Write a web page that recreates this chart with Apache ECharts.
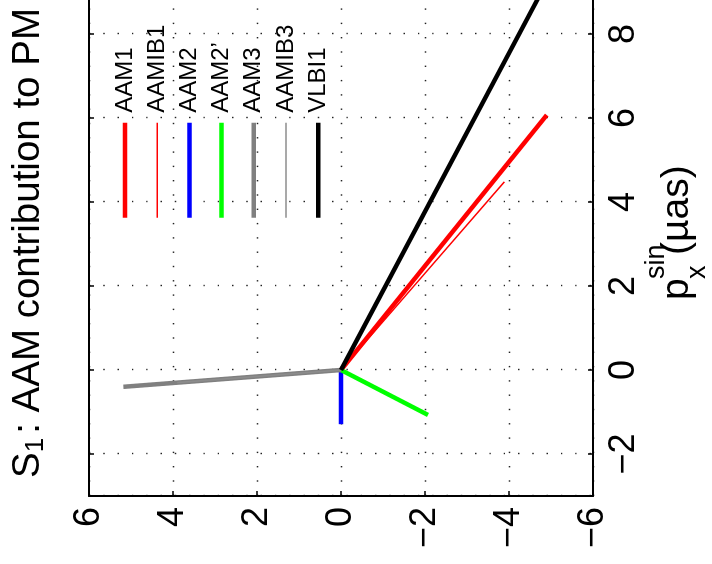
<!DOCTYPE html>
<html>
<head>
<meta charset="utf-8">
<script src="https://cdn.jsdelivr.net/npm/echarts@6/dist/echarts.min.js"></script>
<style>
  html, body { margin: 0; padding: 0; width: 712px; height: 564px; overflow: hidden; background: #fff; }
  /* The figure is drawn upright and turned a quarter turn counter-clockwise, as in the reference */
  #chart { position: absolute; left: 0; top: 0; width: 600px; height: 712px;
           transform-origin: 0 0; transform: translate(0px, 564px) rotate(-90deg); }
</style>
</head>
<body>
<div id="chart"></div>
<script>
// ---- data: each vector from the origin, [p_x^sin, p_y^sin] in µas ----
const seriesNames = ['AAM1', 'AAMIB1', 'AAM2', 'AAM2\u2019', 'AAM3', 'AAMIB3', 'VLBI1'];
const AAM1   = [[0, 0], [6.07, -4.90]];
const AAMIB1 = [[0, 0], [4.48, -3.89]];
const AAM2   = [[0, 0], [-1.29, 0.00]];
const AAM2p  = [[0, 0], [-1.07, -2.07]];
const AAM3   = [[0, 0], [-0.40, 5.18]];
const AAMIB3 = [[0, 0], [-0.30, 3.90]];
const VLBI1  = [[0, 0], [9.60, -5.09]];
const seriesData = [AAM1, AAMIB1, AAM2, AAM2p, AAM3, AAMIB3, VLBI1];

// ---- axes ----
const xRange = [-3, 9];   // p_x^sin
const yRange = [-6, 6];   // p_y^sin
const yInterval = 2;

// ---- styles ----
const colors = ['#ff0000', '#ff0000', '#0000ff', '#00ff00', '#808080', '#8c8c8c', '#000000'];
const widths = [4.5, 1.4, 4.5, 4.5, 4.5, 1.6, 4.5];
const FONT = 'Liberation Sans, Arial, Helvetica, sans-serif';

const minus = v => String(v).replace('-', '\u2212');

const chart = echarts.init(document.getElementById('chart'), null, { renderer: 'canvas' });

const gridDots = { show: true, lineStyle: { color: '#222', width: 1.4, type: [1.4, 12.9] } };
const tickIn = { show: true, inside: true, length: 5, lineStyle: { color: '#000', width: 1.5 } };
const lineAx = { show: true, onZero: false, lineStyle: { color: '#000', width: 2 } };

chart.setOption({
  animation: false,
  backgroundColor: '#fff',
  grid: { left: 68, top: 89, width: 504, height: 504, containLabel: false },
  xAxis: [
    { type: 'value', position: 'bottom', min: xRange[0], max: xRange[1], splitNumber: 6,
      axisLine: lineAx, axisTick: tickIn, splitLine: gridDots,
      axisLabel: { show: true, showMinLabel: false, showMaxLabel: false, margin: 13,
                   fontSize: 36, fontFamily: FONT, color: '#000', formatter: minus } },
    { type: 'value', position: 'top', min: xRange[0], max: xRange[1], splitNumber: 6,
      axisLine: lineAx, axisTick: tickIn, splitLine: { show: false }, axisLabel: { show: false } }
  ],
  yAxis: [
    { type: 'value', position: 'left', min: yRange[0], max: yRange[1], interval: yInterval,
      axisLine: lineAx, axisTick: tickIn, splitLine: gridDots,
      axisLabel: { show: true, margin: 11, fontSize: 36, fontFamily: FONT, color: '#000', formatter: minus } },
    { type: 'value', position: 'right', min: yRange[0], max: yRange[1], interval: yInterval,
      axisLine: lineAx, axisTick: tickIn, splitLine: { show: false }, axisLabel: { show: false } }
  ],
  legend: {
    orient: 'vertical', left: 344, top: 113, padding: 0,
    itemWidth: 95, itemHeight: 24, itemGap: 8.2, selectedMode: false,
    itemStyle: { opacity: 0, borderWidth: 0 },
    textStyle: { fontSize: 24, fontFamily: FONT, color: '#000', padding: [0, 0, 0, 5] },
    data: seriesNames.map((name, i) => ({
      name: name,
      itemStyle: { opacity: 0, borderWidth: 0, color: 'transparent' },
      lineStyle: { color: colors[i], width: widths[i], opacity: 1 }
    }))
  },
  graphic: [
    { type: 'text', x: 321, y: 9, silent: true,
      style: { text: '{m|S}{s|1}{m|: AAM contribution to PM}', align: 'center', verticalAlign: 'top',
        rich: {
          m: { fontSize: 38.5, lineHeight: 40, fontFamily: FONT, fill: '#000', verticalAlign: 'top' },
          s: { fontSize: 26, lineHeight: 26, fontFamily: FONT, fill: '#000', verticalAlign: 'bottom', padding: [27.5, 4, 0, 0] }
        } } },
    { type: 'text', x: 264, y: 677, silent: true,
      style: { text: 'p', fontSize: 39, fontFamily: FONT, fill: '#000', align: 'left', verticalAlign: 'middle' } },
    { type: 'text', x: 285, y: 657, silent: true,
      style: { text: 'sin', fontSize: 27, fontFamily: FONT, fill: '#000', align: 'left', verticalAlign: 'middle' } },
    { type: 'text', x: 285, y: 698, silent: true,
      style: { text: 'x', fontSize: 27, fontFamily: FONT, fill: '#000', align: 'left', verticalAlign: 'middle' } },
    { type: 'text', x: 309, y: 677, silent: true,
      style: { text: '(\u00b5as)', fontSize: 39, fontFamily: FONT, fill: '#000', align: 'left', verticalAlign: 'middle' } }
  ],
  series: seriesNames.map((name, i) => ({
    name: name, type: 'line', xAxisIndex: 0, yAxisIndex: 0,
    data: seriesData[i], symbol: 'none', showSymbol: false, clip: true,
    lineStyle: { color: colors[i], width: widths[i], cap: 'butt' },
    itemStyle: { color: colors[i] },
    emphasis: { disabled: true }, z: 2 + i
  }))
});
</script>
</body>
</html>
